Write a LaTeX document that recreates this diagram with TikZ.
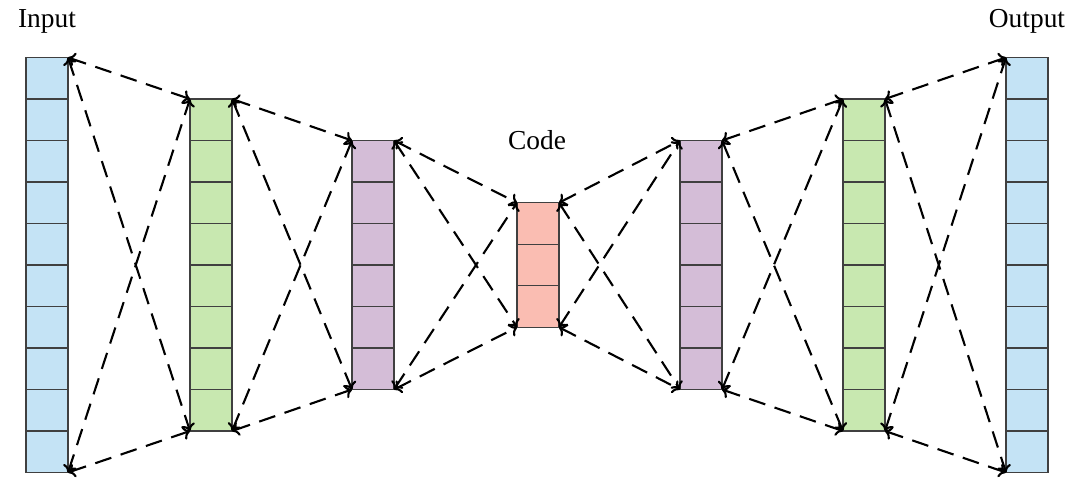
\documentclass[tikz,border=0pt]{standalone}
\usepackage{fontspec}
\setmainfont{Liberation Serif}
\usepackage{tikz}
\usetikzlibrary{arrows.meta}
\definecolor{in-color}{HTML}{C4E3F5}
\definecolor{h1-color}{HTML}{C8E8B0}
\definecolor{h2-color}{HTML}{D4BDD7}
\definecolor{z-color}{HTML}{FABDB2}
\definecolor{cell-line}{HTML}{404040}

\begin{document}
\begin{tikzpicture}[x=0.025cm, y=-0.025cm,
                >={To[length=5pt,width=10pt]},
                every node/.append style={font=\fontsize{19.5}{23}\selectfont},
                cell/.style={draw=cell-line, line width=1pt, inner sep=0pt, outer sep=0pt,
                             minimum width=1.05cm, minimum height=1.0375cm},
                link/.style={<->, line width=1.5pt, dash pattern=on 12pt off 7pt}]
    \useasboundingbox (0,0) rectangle (1080,494);

    % layers of cells
    \foreach \name/\cx/\n/\col in {in/47/10/in-color, e1/211/8/h1-color, e2/373/6/h2-color,
                                  z/538/3/z-color, d2/701/6/h2-color, d1/864/8/h1-color,
                                  out/1027/10/in-color}
        \foreach \k in {1,...,\n}
            \node [cell, fill=\col] (\name-\k) at (\cx, {265 + (\k - (\n+1)/2)*41.5}) {};

    % labels
    \node [anchor=base] (in-label)   at (47,27)   {Input};
    \node [anchor=base] (z-label)    at (537,149) {Code};
    \node [anchor=base] (out-label)  at (1027,27) {Output};

    % connections between layers
    \foreach \a/\na/\b/\nb in {in/10/e1/8, e1/8/e2/6, e2/6/z/3, z/3/d2/6, d2/6/d1/8, d1/8/out/10} {
        \draw [link] (\a-1.north east)     -- (\b-1.north west);
        \draw [link] (\a-1.north east)     -- (\b-\nb.south west);
        \draw [link] (\a-\na.south east)   -- (\b-1.north west);
        \draw [link] (\a-\na.south east)   -- (\b-\nb.south west);
    }
\end{tikzpicture}
\end{document}
